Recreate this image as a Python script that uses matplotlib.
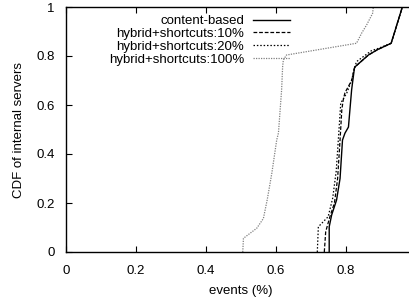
import matplotlib
matplotlib.use("Agg")
import matplotlib.pyplot as plt

plt.rcParams['font.family'] = ['Liberation Sans', 'DejaVu Sans']

labels = ["content-based", "hybrid+shortcuts:10%", "hybrid+shortcuts:20%", "hybrid+shortcuts:100%"]

cb_x = [0.752, 0.752, 0.759, 0.773, 0.783, 0.790, 0.797, 0.807, 0.816, 0.824, 0.826, 0.864, 0.890, 0.929, 0.961]
cb_y = [0.0, 0.103, 0.151, 0.212, 0.30, 0.457, 0.485, 0.51, 0.661, 0.75, 0.756, 0.804, 0.826, 0.852, 1.0]

h10_x = [0.738, 0.742, 0.754, 0.767, 0.776, 0.783, 0.788, 0.792, 0.797, 0.816, 0.824, 0.826, 0.864, 0.890, 0.929, 0.961]
h10_y = [0.0, 0.083, 0.144, 0.20, 0.30, 0.457, 0.58, 0.62, 0.65, 0.70, 0.75, 0.756, 0.804, 0.826, 0.852, 1.0]

h20_x = [0.718, 0.721, 0.749, 0.762, 0.772, 0.778, 0.785, 0.802, 0.816, 0.824, 0.830, 0.873, 0.890, 0.929, 0.961]
h20_y = [0.0, 0.103, 0.144, 0.22, 0.33, 0.457, 0.608, 0.648, 0.70, 0.75, 0.777, 0.822, 0.830, 0.852, 1.0]

h100_x = [0.505, 0.507, 0.545, 0.564, 0.575, 0.588, 0.602, 0.607, 0.616, 0.619, 0.621, 0.630, 0.830, 0.845, 0.859, 0.876, 0.878]
h100_y = [0.0, 0.056, 0.097, 0.137, 0.214, 0.321, 0.457, 0.486, 0.661, 0.758, 0.784, 0.804, 0.852, 0.894, 0.927, 0.974, 1.0]

xticks = [0, 0.2, 0.4, 0.6, 0.8]
yticks = [0, 0.2, 0.4, 0.6, 0.8, 1]

fig = plt.figure(figsize=(4.09, 3.0), dpi=100)
ax = fig.add_axes([66/409, 48/300, 350/409, 245/300])

ax.plot(cb_x, cb_y, color='black', lw=1.0, ls='-', label=labels[0])
ax.plot(h10_x, h10_y, color='black', lw=0.9, ls=(0, (3, 1.5)), label=labels[1])
ax.plot(h20_x, h20_y, color='black', lw=0.9, ls=(0, (1.2, 1.5)), label=labels[2])
ax.plot(h100_x, h100_y, color='#808080', lw=0.9, ls=(0, (1, 1)), label=labels[3])

ax.set_xlim(0, 1)
ax.set_ylim(0, 1)
ax.set_xticks(xticks)
ax.set_xticklabels(['%g' % v for v in xticks])
ax.set_yticks(yticks)
ax.set_yticklabels(['%g' % v for v in yticks])
ax.tick_params(direction='in', top=True, right=True, length=4, labelsize=9.5)
ax.tick_params(axis='x', pad=9)
ax.tick_params(axis='y', pad=8)
for s in ax.spines.values():
    s.set_linewidth(1.0)

ax.set_xlabel('events (%)', fontsize=9.5, labelpad=6)
ax.set_ylabel('CDF of internal servers', fontsize=9.5, labelpad=8)

leg = ax.legend(loc='upper left', bbox_to_anchor=(0.10, 1.0), frameon=False, markerfirst=False,
                fontsize=9.5, handlelength=2.8, labelspacing=0.05, handletextpad=0.7,
                borderaxespad=0.2)
for t in leg.get_texts():
    t.set_ha('right')
leg._legend_box.align = 'right'

fig.savefig('out.png', dpi=100)
